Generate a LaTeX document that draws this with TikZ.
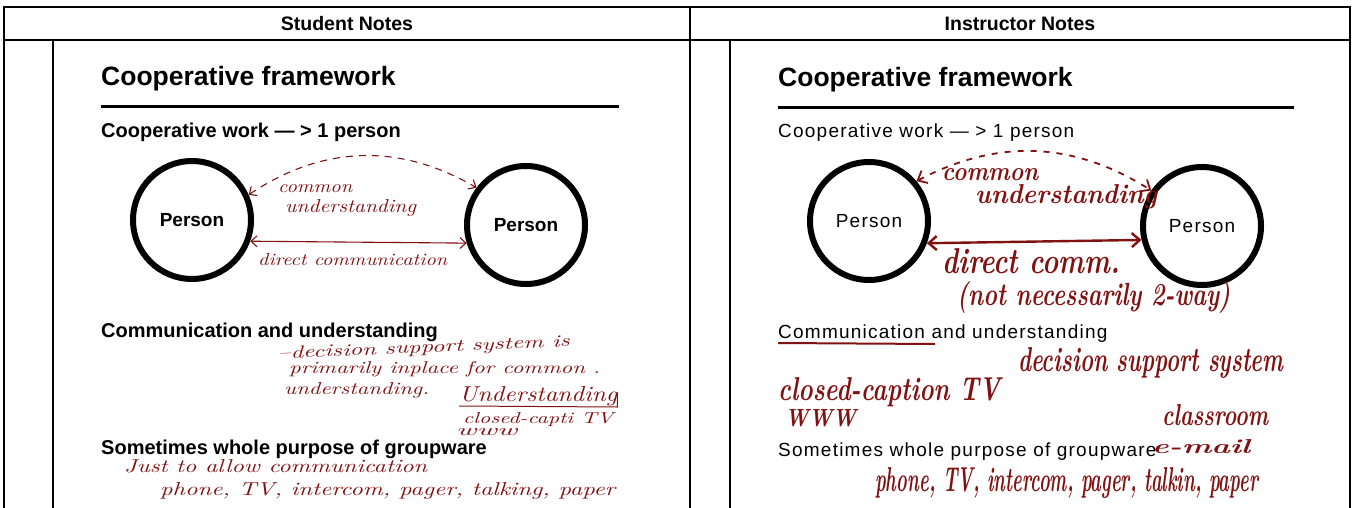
\documentclass[tikz,border=0pt]{standalone}
\usepackage{fontspec}
\setsansfont{Liberation Sans}
\usetikzlibrary{arrows.meta}

\definecolor{ink}{RGB}{130,18,18}
% handwriting, stretched to a given width and height
\newcommand{\scrawl}[3]{\resizebox{#1pt}{#2pt}{#3}}

\begin{document}
\begin{tikzpicture}[x=1pt, y=-1pt,
		every node/.style={inner sep=0pt},
		rule/.style={line width=1.3pt},
		head/.style={font=\sffamily\bfseries\fontsize{19.5}{22}\selectfont},
		title/.style={font=\sffamily\bfseries\fontsize{26.5}{30}\selectfont, anchor=base west},
		boldtext/.style={font=\sffamily\bfseries\fontsize{20}{24}\selectfont, anchor=base west},
		plaintext/.style={font=\sffamily\fontsize{19}{23}\selectfont\addfontfeature{LetterSpace=6.5}, anchor=base west},
		person/.style={circle, draw, line width=6pt, minimum size=118pt},
		inkthin/.style={text=ink, font=\rmfamily\itshape, anchor=base west},
		inkthick/.style={text=ink, font=\rmfamily\bfseries\itshape, anchor=base west},
		inkarrow/.style={draw=ink, line width=1.1pt, arrows={Straight Barb[length=6pt,width=11pt]-Straight Barb[length=6pt,width=11pt]}},
		fatarrow/.style={draw=ink, line width=2.4pt, arrows={Straight Barb[length=8pt,width=14pt]-Straight Barb[length=8pt,width=14pt]}},
	]
	\useasboundingbox[fill=white] (0,0) rectangle (1354,508);

	% table
	\draw[rule] (4,508) -- (4,7) -- (1350,7) -- (1350,508);
	\draw[rule] (4,40) -- (1350,40);
	\draw[rule] (690,7) -- (690,508);
	\draw[rule] (53,40) -- (53,508);
	\draw[rule] (730,40) -- (730,508);
	\node[head, anchor=base] (hstud) at (347,31) {Student Notes};
	\node[head, anchor=base] (hinst) at (1020,31) {Instructor Notes};

	% left column: printed slide
	\node[title] (tl) at (101,86) {Cooperative framework};
	\draw[line width=3pt] (101,107) -- (619,107);
	\node[boldtext] (cwl) at (101,138) {Cooperative work --- > 1 person};
	\node[person, font=\sffamily\bfseries\fontsize{19}{22}\selectfont] (pl1) at (192,220) {Person};
	\node[person, font=\sffamily\bfseries\fontsize{19}{22}\selectfont] (pl2) at (526,225) {Person};
	\node[boldtext] (cul) at (101,337) {Communication and understanding};
	\node[boldtext] (sgl) at (101,454) {Sometimes whole purpose of groupware};

	% left column: student's pen
	\draw[inkarrow, dash pattern=on 7pt off 6pt] (pl1.24) to[bend left=32] (pl2.143);
	\draw[inkarrow] (pl1.-20) -- (pl2.197);
	\node[inkthin] (cmnl) at (278,192) {\scrawl{74}{8}{common}};
	\node[inkthin] (undl) at (285,212) {\scrawl{131}{13}{understanding}};
	\node[inkthin] (dirl) at (258,265) {\scrawl{189}{12}{direct communication}};
	\node[inkthin, rotate=2.5] (dssl) at (278,359) {\scrawl{292}{12}{--decision support system is}};
	\node[inkthin] (prml) at (289,373) {\scrawl{311}{12}{primarily inplace for common .}};
	\node[inkthin] (unddl) at (284,394) {\scrawl{145}{12}{understanding.}};
	\node[inkthin] (bigul) at (459,401) {\scrawl{158}{15}{Understanding}};
	\draw[ink, line width=1pt] ([yshift=-5pt]bigul.base west) -- ([yshift=-6pt]bigul.base east) -- ([yshift=8pt]bigul.base east);
	\node[inkthin] (ccl) at (463,423) {\scrawl{150}{11}{closed-capti TV}};
	\node[inkthin] (wwwl) at (456,435) {\scrawl{61}{7}{www}};
	\node[inkthin] (jstl) at (124,472) {\scrawl{303}{13}{Just to allow communication}};
	\node[inkthin] (phnl) at (160,495) {\scrawl{455}{13}{phone, TV, intercom, pager, talking, paper}};

	% right column: printed slide
	\node[title] (tr) at (778,87) {Cooperative framework};
	\draw[line width=3pt] (778,108) -- (1294,108);
	\node[plaintext] (cwr) at (778,138) {Cooperative work --- > 1 person};
	\node[person, font=\sffamily\fontsize{19}{22}\selectfont\addfontfeature{LetterSpace=6.5}] (pr1) at (869,221) {Person};
	\node[person, font=\sffamily\fontsize{19}{22}\selectfont\addfontfeature{LetterSpace=6.5}] (pr2) at (1202,226) {Person};
	\node[plaintext] (cur) at (778,338) {Communication and understanding};
	\node[plaintext] (sgr) at (778,456) {Sometimes whole purpose of groupware};

	% right column: instructor's pen
	\draw[fatarrow, line width=1.8pt, dash pattern=on 6pt off 7pt] (pr1.40) to[bend left=30] (pr2.145);
	\draw[fatarrow] (pr1.-21) -- (pr2.193);
	\node[inkthick] (cmnr) at (942,180) {\scrawl{96}{12}{common}};
	\node[inkthick] (undr) at (975,203) {\scrawl{182}{19}{understanding}};
	\node[inkthick] (dirr) at (942,273) {\scrawl{178}{25}{direct comm.}};
	\node[inkthick] (notr) at (957,305) {\scrawl{273}{24}{(not necessarily 2-way)}};
	\draw[ink, line width=2pt] ([yshift=-5pt]cur.base west) -- ++(157,1);
	\node[inkthick] (dssr) at (1018,371) {\scrawl{265}{24}{decision support system}};
	\node[inkthick] (ccr) at (778,400) {\scrawl{222}{23}{closed-caption TV}};
	\node[inkthick] (wwwr) at (785,426) {\scrawl{71}{17}{WWW}};
	\node[inkthick] (clsr) at (1162,425) {\scrawl{106}{21}{classroom}};
	\node[inkthick] (emlr) at (1152,453) {\scrawl{98}{14}{e-mail}};
	\node[inkthick] (phnr) at (875,491) {\scrawl{383}{24}{phone, TV, intercom, pager, talkin, paper}};
\end{tikzpicture}
\end{document}
